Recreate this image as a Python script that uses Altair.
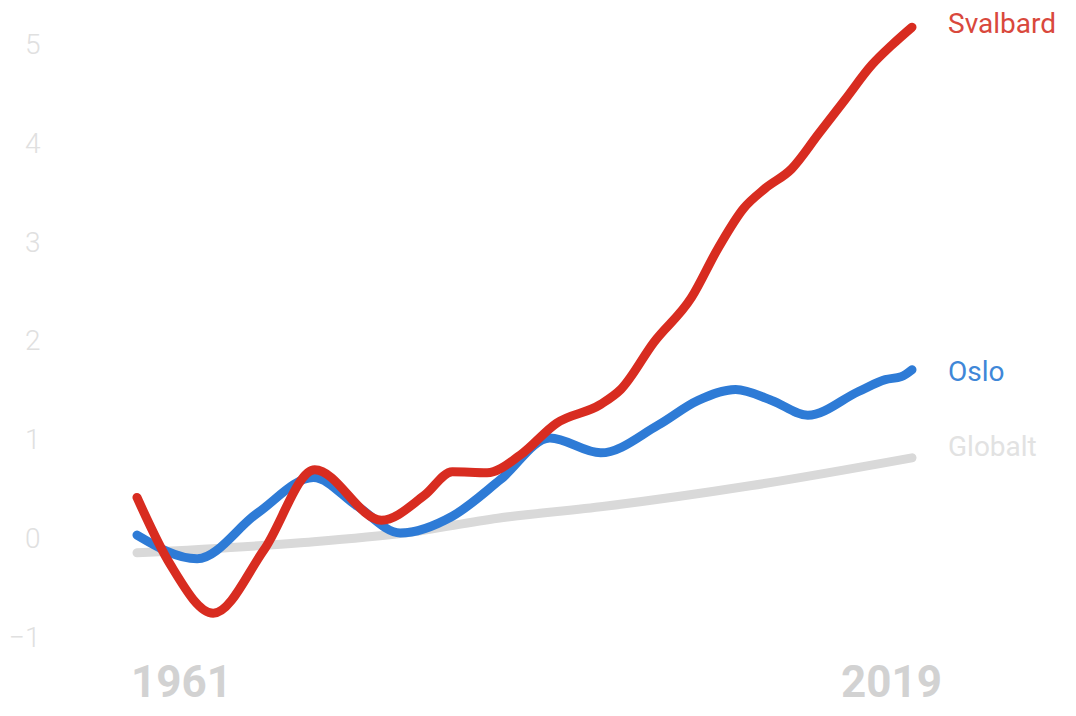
import altair as alt
import pandas as pd

# ---- data ----
svalbard_years = [1961, 1963.5, 1966.7, 1970.5, 1974.3, 1979.3, 1982.5, 1984.6, 1987.2, 1989.7,
                  1992.4, 1995.7, 1997.2, 1999.7, 2002.5, 2004.5, 2006.4, 2008, 2010, 2012,
                  2014, 2016, 2017.5, 2019]
svalbard_values = [0.43, -0.25, -0.74, -0.1, 0.71, 0.20, 0.45, 0.69, 0.68, 0.86,
                   1.18, 1.37, 1.52, 2.0, 2.45, 2.95, 3.35, 3.55, 3.75, 4.1,
                   4.45, 4.8, 5.0, 5.18]

oslo_years = [1961, 1965.5, 1970, 1974.2, 1977.5, 1980.7, 1984.6, 1988.2, 1991.9, 1995.7,
              2000, 2003, 2005.8, 2008.5, 2011.2, 2015, 2017, 2018.2, 2019]
oslo_values = [0.05, -0.19, 0.27, 0.63, 0.34, 0.07, 0.24, 0.61, 1.03, 0.88,
               1.16, 1.41, 1.52, 1.41, 1.26, 1.50, 1.62, 1.65, 1.72]

global_years = [1961, 1973, 1981, 1988, 1996, 2007, 2019]
global_values = [-0.13, -0.03, 0.07, 0.22, 0.34, 0.55, 0.83]

series_names = ["Globalt", "Oslo", "Svalbard"]
series_years = [global_years, oslo_years, svalbard_years]
series_values = [global_values, oslo_values, svalbard_values]
line_colors = ["#d9d9d9", "#2e7bd6", "#d82c20"]
label_colors = ["#e2e2e2", "#3f87d8", "#d9483c"]
label_dy = [-10, 3, -2]

y_ticks = [-1, 0, 1, 2, 3, 4, 5]
x_ticks = [1961, 2019]

rows = []
for name, yrs, vals in zip(series_names, series_years, series_values):
    for yr, v in zip(yrs, vals):
        rows.append({"series": name, "year": yr, "value": v})
df = pd.DataFrame(rows)

x_enc = alt.X(
    "year:Q",
    scale=alt.Scale(domain=[1961, 2019], nice=False, zero=False),
    axis=alt.Axis(
        values=x_ticks, format="d", title=None, domain=False, ticks=False, grid=False,
        labelFont="Roboto", labelFontSize=44, labelFontWeight="bold", labelColor="#d2d2d2",
        labelAlign="center", labelBaseline="middle", labelPadding=18,
        labelOffset={"condition": {"test": "datum.value == 1961", "value": 44}, "value": -21},
    ),
)
y_enc = alt.Y(
    "value:Q",
    scale=alt.Scale(domain=[-1.263, 5.374], nice=False, zero=False),
    axis=alt.Axis(
        values=y_ticks, title=None, domain=False, ticks=False, grid=False,
        labelFont="Roboto", labelFontSize=28, labelFontWeight=300, labelColor="#e0e0e0",
        labelAlign="right", labelBaseline="middle", labelPadding=97,
    ),
)

base = alt.Chart(df)
layers = []
for name, lc in zip(series_names, line_colors):
    layers.append(
        base.transform_filter(alt.datum.series == name)
        .mark_line(strokeWidth=9, strokeCap="round", strokeJoin="round", interpolate="monotone", color=lc)
        .encode(x=x_enc, y=y_enc, order="year:Q")
    )
for name, tc, dy in zip(series_names, label_colors, label_dy):
    layers.append(
        base.transform_filter(alt.datum.series == name)
        .transform_filter(alt.datum.year == 2019)
        .mark_text(align="left", baseline="middle", dx=36, dy=dy, font="Roboto",
                   fontSize=28, color=tc)
        .encode(x=x_enc, y=y_enc, text="series:N")
    )

chart = (
    alt.layer(*layers)
    .properties(
        width=775, height=657,
        autosize=alt.AutoSizeParams(type="none"),
        padding={"left": 129, "top": 0, "right": 150, "bottom": 43},
        background="white",
    )
    .configure_view(stroke=None)
)

chart.save("out.html", embed_options={"renderer": "svg", "actions": False})
